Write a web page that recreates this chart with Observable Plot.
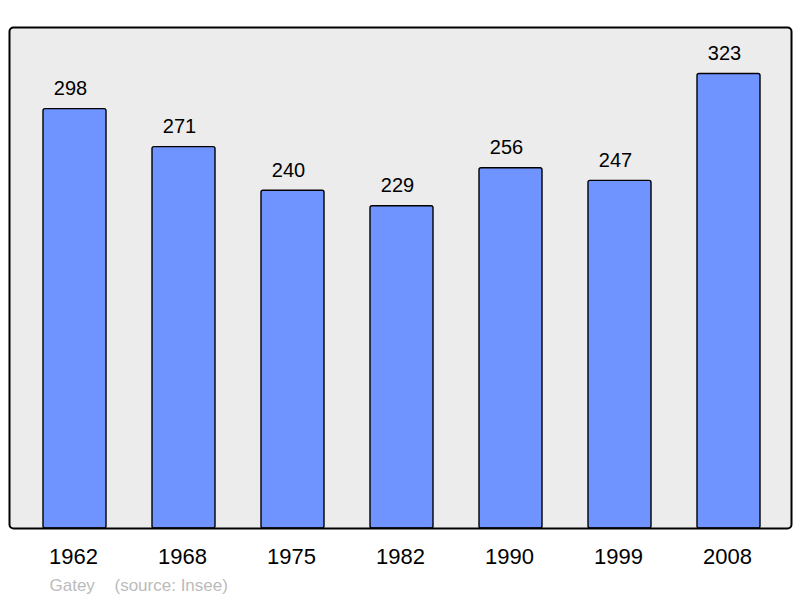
<!DOCTYPE html>
<html>
<head>
<meta charset="utf-8">
<script src="https://cdn.jsdelivr.net/npm/d3@7"></script>
<script src="https://cdn.jsdelivr.net/npm/@observablehq/plot@0.6"></script>
<style>
  html, body { margin: 0; padding: 0; background: #ffffff; }
  #chart svg { display: block; }
</style>
</head>
<body>
<div id="chart"></div>
<script>
const years = ["1962", "1968", "1975", "1982", "1990", "1999", "2008"];
const population = [298, 271, 240, 229, 256, 247, 323];
const placeName = "Gatey";
const sourceText = "(source: Insee)";

const data = years.map((year, i) => ({year, value: population[i]}));
const font = "Liberation Sans, Arial, sans-serif";

const chart = Plot.plot({
  width: 800,
  height: 598,
  marginLeft: 9,
  marginRight: 9,
  marginTop: 27,
  marginBottom: 70,
  style: {fontFamily: font, background: "#ffffff"},
  x: {type: "band", domain: years, range: [42, 761], paddingInner: 0.424, paddingOuter: 0, label: null},
  y: {domain: [0, 356], axis: null},
  marks: [
    Plot.frame({fill: "#ececec", stroke: "none", rx: 4}),
    Plot.barY(data, {x: "year", y: "value", fill: "#7094ff", stroke: "#000000", strokeWidth: 1.4, rx: 2}),
    Plot.frame({stroke: "#000000", strokeWidth: 2, rx: 4}),
    Plot.text(data, {x: "year", y: "value", text: d => String(d.value), dx: -4.5, dy: -20.5, fontSize: 20, fill: "#000000", lineAnchor: "middle"}),
    Plot.axisX({tickSize: 0, tickPadding: 20, fontSize: 22, fill: "#000000", label: null, dx: -1.5}),
    Plot.text([placeName], {frameAnchor: "bottom-left", dx: 40, dy: 57, textAnchor: "start", lineAnchor: "middle", fontSize: 17, fill: "#bbbbbb"}),
    Plot.text([sourceText], {frameAnchor: "bottom-left", dx: 105, dy: 57, textAnchor: "start", lineAnchor: "middle", fontSize: 17, fill: "#bbbbbb"})
  ]
});
document.getElementById("chart").appendChild(chart);
</script>
</body>
</html>
